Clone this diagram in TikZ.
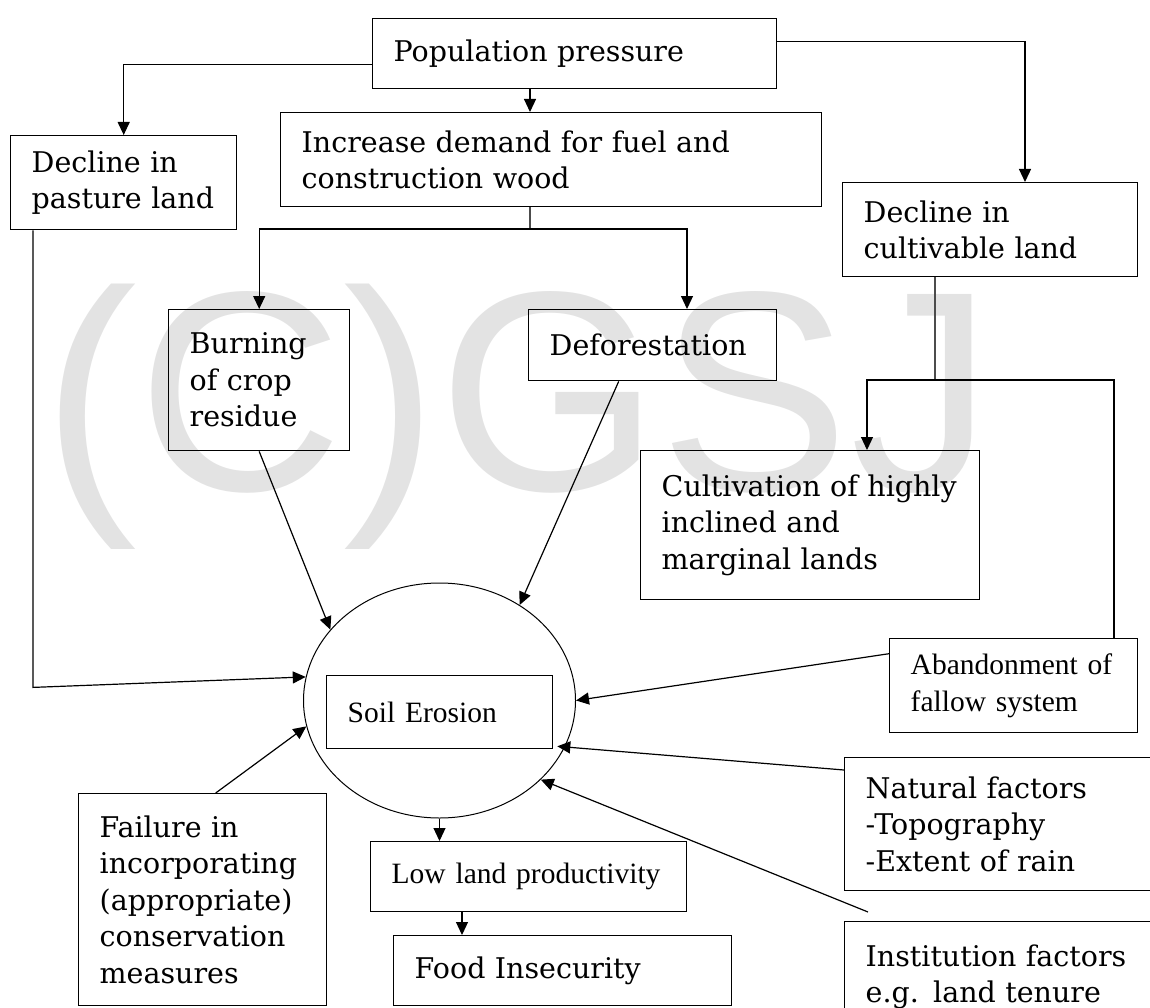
\documentclass[tikz,border=0pt]{standalone}
\usepackage{fontspec}
\usetikzlibrary{arrows.meta,shapes.geometric}
\newfontfamily\bookfont{DejaVu Serif}
\newfontfamily\timesfont{Liberation Serif}
\newfontfamily\markfont{Liberation Sans}

\begin{document}
\begin{tikzpicture}[x=1pt,y=-1pt,
		>={Triangle[length=13pt,width=12pt]},
		every path/.style={line width=1.2pt},
		box/.style={draw,line width=1.4pt,anchor=north west,inner xsep=21pt,inner ysep=0pt,align=left,
			font=\bookfont\fontsize{28.5}{36.5}\selectfont},
		tbox/.style={box,font=\timesfont\fontsize{29.5}{37}\selectfont},
		watermark/.style={text=black!11,inner sep=0pt,font=\markfont\fontsize{285}{300}\selectfont}]
		\useasboundingbox (0,0) rectangle (1150,1008);
		\node[watermark,anchor=base west] (mark) at (42,490) {(C)GSJ};
		%boxes
		\node[box,text width=362pt,minimum height=70pt] (pop) at (372,18) {Population pressure};
		\node[box,text width=184pt,minimum height=94pt] (pasture) at (10,135) {Decline in\\pasture land};
		\node[box,text width=499pt,minimum height=94pt] (demand) at (280,112) {Increase demand for fuel and\\construction wood};
		\node[box,text width=139pt,minimum height=141pt] (burning) at (168,309) {Burning\\of crop\\residue};
		\node[box,text width=206pt,minimum height=71pt] (defor) at (528,309) {Deforestation};
		\node[box,text width=253pt,minimum height=94pt] (cultiv) at (842,182) {Decline in\\cultivable land};
		\node[box,text width=297pt,minimum height=149pt] (cultivation) at (640,450) {Cultivation of highly\\inclined and\\marginal lands};
		\node[tbox,text width=206pt,minimum height=94pt] (abandon) at (889,638) {Abandonment of\\fallow system};
		\node[draw,ellipse,line width=1pt,inner sep=0pt,minimum width=272pt,minimum height=235pt] (circ) at (439.5,700.5) {};
		\node[tbox,text width=184pt,minimum height=73pt] (erosion) at (326,675) {Soil Erosion};
		\node[tbox,text width=274pt,minimum height=70pt] (lowprod) at (370,841) {Low land productivity};
		\node[box,text width=296pt,minimum height=70pt] (food) at (393,935) {Food Insecurity};
		\node[box,text width=206pt,minimum height=212pt] (failure) at (78,793) {Failure in\\incorporating\\(appropriate)\\conservation\\measures};
		\node[box,text width=288pt,minimum height=133pt] (natural) at (844,757) {Natural factors\\-Topography\\-Extent of rain};
		\node[box,text width=288pt,minimum height=110pt] (inst) at (844,921) {Institution factors\\e.g. land tenure};
		%from population pressure
		\coordinate (popstem) at (530,0);
		\coordinate (cultivdrop) at (1025,0);
		\draw[->] ([yshift=-11pt]pop.west) -| (pasture.north);
		\draw[->] (pop.south -| popstem) -- (demand.north -| popstem);
		\draw[->] ([yshift=12pt]pop.east) -| (cultiv.north -| cultivdrop);
		%fuel and wood
		\coordinate (woodsplit) at (530,229);
		\coordinate (deforin) at (687,0);
		\draw[black!70] (demand.south -| woodsplit) -- (woodsplit);
		\draw[->] (woodsplit) -| (burning.north);
		\draw[->] (woodsplit) -| (defor.north -| deforin);
		%cultivable land
		\coordinate (landsplit) at (935,380);
		\coordinate (cultin) at (867,380);
		\coordinate (fallowdrop) at (1114,380);
		\draw[black!70] (cultiv.south -| landsplit) -- (landsplit);
		\draw[->] (landsplit) -- (cultin) -- (cultivation.north -| cultin);
		\draw (landsplit) -- (fallowdrop) -- (abandon.north -| fallowdrop);
		%into soil erosion
		\draw[->] ([xshift=23pt]pasture.south west) -- ++(0,457) -- (circ.170);
		\draw[->] (burning.south) -- (circ.147);
		\draw[->] ([xshift=-34pt]defor.south) -- (circ.50);
		\draw[->] ([yshift=32pt]abandon.west) -- (circ.0);
		\draw[->] ([yshift=-13pt]natural.north west) -- ([xshift=-8pt]circ.-20);
		\draw[->] ([shift={(24pt,9pt)}]inst.north west) -- (circ.-38);
		\draw[->] ([xshift=13pt]failure.north) -- (circ.191);
		%out of soil erosion
		\coordinate (foodin) at (462,0);
		\draw[->] (circ.south) -- (circ.south |- lowprod.north);
		\draw[->] (lowprod.south -| foodin) -- (food.north -| foodin);
	\end{tikzpicture}
\end{document}
